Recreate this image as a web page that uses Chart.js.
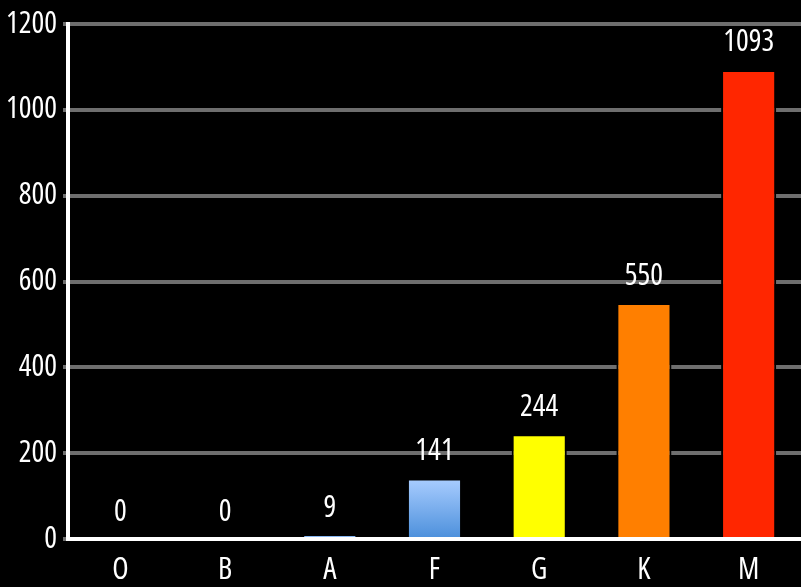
<!DOCTYPE html>
<html>
<head>
<meta charset="utf-8">
<script src="https://cdn.jsdelivr.net/npm/chart.js@4/dist/chart.umd.min.js"></script>
<style>
  html, body { margin: 0; padding: 0; background: #000; }
  #wrap { width: 801px; height: 587px; }
</style>
</head>
<body>
<div id="wrap"><canvas id="starChart"></canvas></div>
<script>
/* ------------------------------- Data ------------------------------- */
const spectralClasses = ["O", "B", "A", "F", "G", "K", "M"];
const starCounts = [0, 0, 9, 141, 244, 550, 1093];
const yTicks = [0, 200, 400, 600, 800, 1000, 1200];

const FONT = '"Open Sans", sans-serif';
// width keyword rides along in the weight slot of the canvas font shorthand
const WEIGHT = "500 extra-condensed";
const FONT_SIZE = 30;

// blue gradient for the A and F bars, flat colours for the rest
const blueFill = (c) => {
  const { chart, dataIndex } = c;
  const yScale = chart.scales.y;
  if (!chart.chartArea || !yScale) return "#7fb0ee";
  const top = yScale.getPixelForValue(starCounts[dataIndex]);
  const base = yScale.getPixelForValue(0);
  if (!isFinite(top) || !isFinite(base) || base - top < 1) return "#7fb0ee";
  const g = chart.ctx.createLinearGradient(0, top, 0, base);
  g.addColorStop(0, "#a9cdff");
  g.addColorStop(1, "#4b8fdb");
  return g;
};

const barColors = ["#000", "#000", blueFill, blueFill, "#ffff00", "#ff7f00", "#ff2600"];

// value text above every bar
const valueLabels = {
  id: "valueLabels",
  afterDatasetsDraw(chart) {
    const { ctx } = chart;
    const meta = chart.getDatasetMeta(0);
    ctx.save();
    ctx.font = `${WEIGHT} ${FONT_SIZE}px ${FONT}`;
    ctx.fillStyle = "#fff";
    ctx.textAlign = "center";
    ctx.textBaseline = "middle";
    meta.data.forEach((bar, i) => {
      ctx.fillText(String(starCounts[i]), bar.x, bar.y - 27);
    });
    ctx.restore();
  },
};

const ctx = document.getElementById("starChart").getContext("2d");
new Chart(ctx, {
  type: "bar",
  data: {
    labels: spectralClasses,
    datasets: [
      {
        data: starCounts,
        backgroundColor: (c) => {
          const col = barColors[c.dataIndex];
          return typeof col === "function" ? col(c) : col;
        },
        borderColor: "#000",
        borderWidth: 2,
        borderSkipped: "bottom",
        barPercentage: 0.585,
        categoryPercentage: 0.9,
      },
    ],
  },
  options: {
    responsive: true,
    maintainAspectRatio: false,
    animation: false,
    layout: { padding: { top: 8, right: 0, left: 0, bottom: -6 } },
    plugins: {
      legend: { display: false },
      tooltip: { enabled: false },
    },
    scales: {
      x: {
        grid: { display: false },
        border: { color: "#fff", width: 4 },
        ticks: {
          color: "#fff",
          padding: 8,
          font: { family: FONT, size: FONT_SIZE, weight: WEIGHT, lineHeight: 1 },
        },
      },
      y: {
        min: 0,
        max: 1200,
        afterBuildTicks: (axis) => {
          axis.ticks = yTicks.map((v) => ({ value: v }));
        },
        afterFit: (axis) => {
          axis.width = 68;
        },
        grid: {
          color: "#6e6e6e",
          lineWidth: 4,
          tickLength: 5,
        },
        border: { color: "#fff", width: 4 },
        ticks: {
          color: "#fff",
          padding: 6,
          callback: (v) => String(v),
          font: { family: FONT, size: FONT_SIZE, weight: WEIGHT },
        },
      },
    },
  },
  plugins: [valueLabels],
});
</script>
</body>
</html>
